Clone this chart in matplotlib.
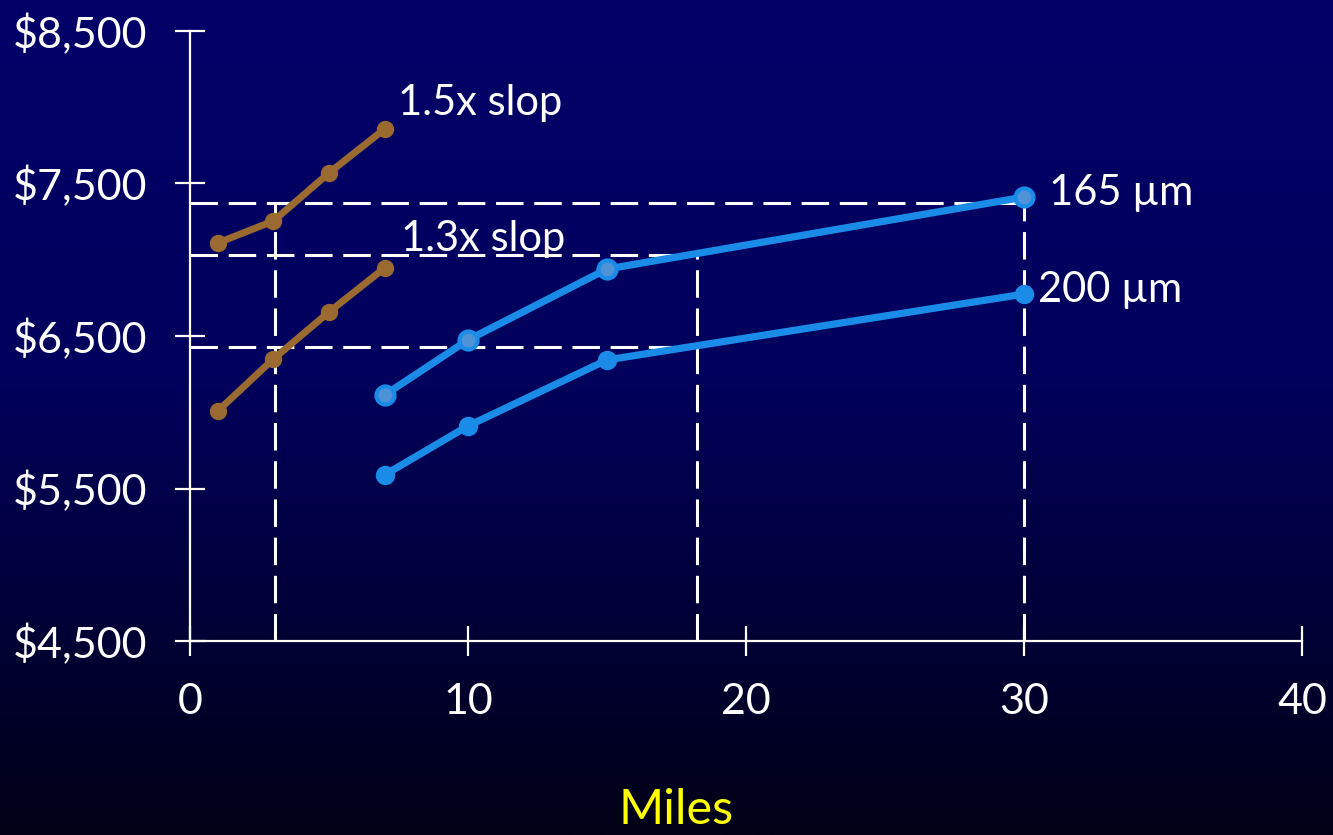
import numpy as np
import matplotlib
matplotlib.use("Agg")
import matplotlib.pyplot as plt

plt.rcParams['font.family'] = ['Lato', 'DejaVu Sans']

# data
brown_x = [1, 3, 5, 7]
slop15_y = [7110, 7254, 7569, 7857]
slop13_y = [6008, 6349, 6657, 6946]

blue_x = [7, 10, 15, 30]
um165_y = [6113, 6474, 6939, 7411]
um200_y = [5589, 5910, 6343, 6775]

# dashed guide lines: (x0, x1, y0, y1)
guides = [
    (0, 30, 7372, 7372),
    (30, 30, 4500, 7372),
    (0, 18.25, 7031, 7031),
    (18.25, 18.25, 4500, 7031),
    (0, 18.0, 6428, 6428),
    (3.06, 3.06, 4500, 7372),
]

x_ticks = [0, 10, 20, 30, 40]
y_ticks = [4500, 5500, 6500, 7500, 8500]
y_labels = ['$4,500', '$5,500', '$6,500', '$7,500', '$8,500']

brown = '#9b6a31'
blue = '#1a8ce8'

fig = plt.figure(figsize=(13.33, 8.35), dpi=100)

# background gradient
bg = fig.add_axes([0, 0, 1, 1])
rows = np.linspace(0, 1, 300)
blue_ch = np.interp(rows, [0, 0.45, 1], [104, 92, 22]) / 255
img = np.zeros((300, 1, 3))
img[:, 0, 2] = blue_ch
img[:, 0, 0] = blue_ch * 0.02
bg.imshow(img, aspect='auto', extent=[0, 1, 0, 1], origin='upper')
bg.axis('off')

ax = fig.add_axes([0.1425, 0.2323, 0.8342, 0.7306])
ax.patch.set_alpha(0)

for x0, x1, y0, y1 in guides:
    ax.plot([x0, x1], [y0, y1], color='white', lw=2.2, dashes=(9, 3.5),
            clip_on=False, zorder=2)

ax.plot(brown_x, slop15_y, color=brown, lw=5, marker='o', ms=11.5, zorder=3)
ax.plot(brown_x, slop13_y, color=brown, lw=5, marker='o', ms=11.5, zorder=3)
ax.plot(blue_x, um165_y, color=blue, lw=5.2, marker='o', ms=13,
        mfc='#4f92d6', mec=blue, mew=3, zorder=3)
ax.plot(blue_x, um200_y, color=blue, lw=5.2, marker='o', ms=13, zorder=3)

ax.text(7.5, 8030, '1.5x slop', color='white', fontsize=30, va='center', ha='left')
ax.text(7.6, 7135, '1.3x slop', color='white', fontsize=30, va='center', ha='left')
ax.text(30.9, 7440, '165 µm', color='white', fontsize=30, va='center', ha='left')
ax.text(30.5, 6800, '200 µm', color='white', fontsize=30, va='center', ha='left')

ax.set_xlim(0, 40)
ax.set_ylim(4500, 8500)
ax.set_xticks(x_ticks)
ax.set_yticks(y_ticks)
ax.set_yticklabels(y_labels)

for s in ['top', 'right']:
    ax.spines[s].set_visible(False)
for s in ['left', 'bottom']:
    ax.spines[s].set_color('white')
    ax.spines[s].set_linewidth(1.6)
    ax.spines[s].set_clip_on(False)

ax.tick_params(axis='both', colors='white', labelsize=31, direction='inout',
               length=21, width=1.6)
ax.tick_params(axis='y', pad=20)
ax.tick_params(axis='x', pad=20)

fig.text(0.507, 0.004, 'Miles', color='#ffff00', fontsize=35, ha='center', va='bottom')

fig.savefig('out.png', dpi=100, facecolor='#000066')
